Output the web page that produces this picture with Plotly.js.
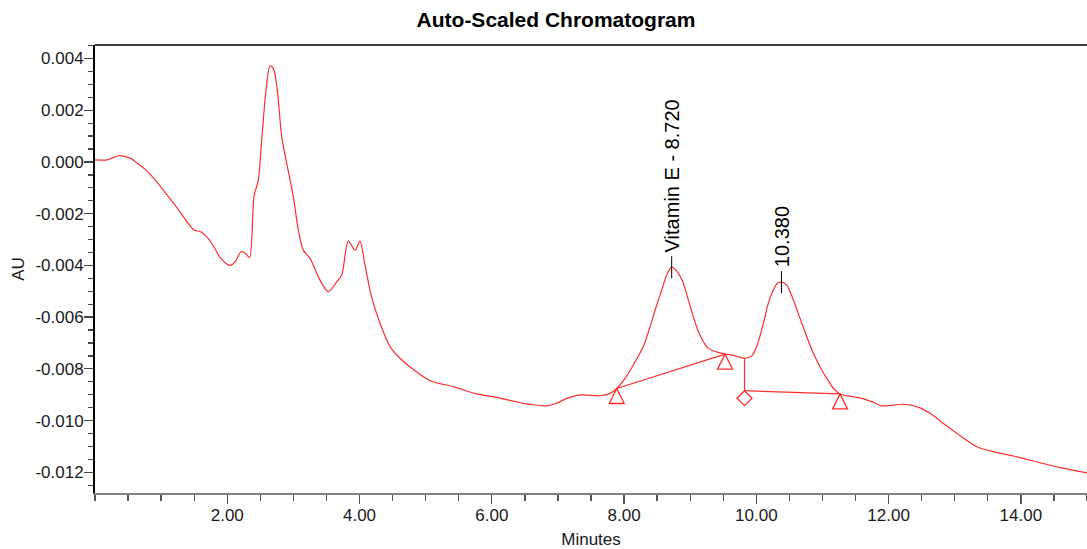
<!DOCTYPE html>
<html>
<head>
<meta charset="utf-8">
<script src="https://cdn.plot.ly/plotly-3.0.1.min.js"></script>
<style>
  html, body { margin: 0; padding: 0; background: #ffffff; }
  #chart { width: 1087px; height: 549px; }
</style>
</head>
<body>
<div id="chart"></div>
<script>
// ---- Chromatogram trace (retention time in minutes, absorbance in AU) ----
const timeMin = [
  0.000, 0.181, 0.257, 0.363, 0.540, 0.640, 0.741, 0.866, 0.994, 1.245,
  1.497, 1.598, 1.750, 1.901, 2.041, 2.117, 2.208, 2.268, 2.336, 2.404,
  2.469, 2.521, 2.586, 2.646, 2.696, 2.757, 2.823, 2.899, 2.999, 3.074,
  3.150, 3.251, 3.402, 3.528, 3.659, 3.731, 3.830, 3.932, 4.007, 4.083,
  4.184, 4.310, 4.461, 4.612, 4.789, 5.066, 5.418, 5.772, 6.074, 6.427,
  6.830, 6.982, 7.133, 7.334, 7.636, 7.788, 7.889, 8.015, 8.140, 8.291,
  8.393, 8.494, 8.570, 8.645, 8.720, 8.821, 8.896, 8.972, 9.047, 9.123,
  9.199, 9.274, 9.350, 9.451, 9.527, 9.652, 9.753, 9.821, 9.930, 10.006,
  10.106, 10.181, 10.257, 10.320, 10.380, 10.460, 10.560, 10.661, 10.762, 10.862,
  10.963, 11.065, 11.165, 11.266, 11.467, 11.594, 11.745, 11.896, 12.072, 12.223,
  12.426, 12.627, 12.828, 13.030, 13.333, 13.584, 13.886, 14.290, 14.592, 15.000
];
const absAU = [
  0.00008, 0.00008, 0.00015, 0.00024, 0.00014, -0.00005, -0.00025, -0.00057, -0.00096, -0.00179,
  -0.00263, -0.00270, -0.00308, -0.00373, -0.00400, -0.00387, -0.00347, -0.00352, -0.00370, -0.00134,
  -0.00070, 0.00085, 0.00278, 0.00371, 0.00362, 0.00278, 0.00098, -0.00005, -0.00134, -0.00263,
  -0.00341, -0.00373, -0.00457, -0.00502, -0.00462, -0.00437, -0.00306, -0.00341, -0.00306, -0.00399,
  -0.00524, -0.00624, -0.00714, -0.00759, -0.00798, -0.00846, -0.00869, -0.00897, -0.00910, -0.00931,
  -0.00943, -0.00933, -0.00914, -0.00901, -0.00904, -0.00895, -0.00876, -0.00837, -0.00785, -0.00714,
  -0.00637, -0.00553, -0.00495, -0.00437, -0.00407, -0.00431, -0.00469, -0.00534, -0.00598, -0.00656,
  -0.00695, -0.00721, -0.00731, -0.00738, -0.00743, -0.00748, -0.00755, -0.00759, -0.00750, -0.00714,
  -0.00624, -0.00547, -0.00495, -0.00469, -0.00465, -0.00476, -0.00534, -0.00605, -0.00676, -0.00740,
  -0.00792, -0.00837, -0.00875, -0.00897, -0.00908, -0.00914, -0.00927, -0.00943, -0.00940, -0.00937,
  -0.00946, -0.00972, -0.01011, -0.01049, -0.01101, -0.01120, -0.01137, -0.01163, -0.01182, -0.01202
];

// ---- Integrated peaks ----
const peakTimes  = [8.720, 10.380];
const peakAU     = [-0.00407, -0.00465];
const peakLabels = ['Vitamin E - 8.720', '10.380'];

// ---- Integration baselines ----
const baseline1T  = [7.889, 9.527];
const baseline1AU = [-0.00876, -0.00743];
const dropLineT   = [9.821, 9.821];
const dropLineAU  = [-0.00759, -0.008845];
const baseline2T  = [9.821, 11.266];
const baseline2AU = [-0.008845, -0.00897];

// ---- Peak start/end markers ----
const triangleT  = [7.889, 9.527, 11.266];
const triangleAU = [-0.00876, -0.00743, -0.00897];
const diamondT   = [9.821];
const diamondAU  = [-0.008845];

// ---- Axis ticks ----
const xTickVals = [2, 4, 6, 8, 10, 12, 14];
const xTickText = ['2.00', '4.00', '6.00', '8.00', '10.00', '12.00', '14.00'];
const yTickVals = [0.004, 0.002, 0.000, -0.002, -0.004, -0.006, -0.008, -0.010, -0.012];
const yTickText = ['0.004', '0.002', '0.000', '-0.002', '-0.004', '-0.006', '-0.008', '-0.010', '-0.012'];

const RED = 'rgb(255,45,45)';
const FONT = 'Liberation Sans, Arial, sans-serif';

const traces = [
  { x: timeMin, y: absAU, type: 'scatter', mode: 'lines',
    line: { color: RED, width: 1.2, shape: 'spline', smoothing: 0.8 }, hoverinfo: 'skip' },
  { x: baseline1T, y: baseline1AU, type: 'scatter', mode: 'lines',
    line: { color: RED, width: 1.2 }, hoverinfo: 'skip' },
  { x: dropLineT, y: dropLineAU, type: 'scatter', mode: 'lines',
    line: { color: RED, width: 1.2 }, hoverinfo: 'skip' },
  { x: baseline2T, y: baseline2AU, type: 'scatter', mode: 'lines',
    line: { color: RED, width: 1.2 }, hoverinfo: 'skip' }
];

const shapes = [
  { type: 'line', xref: 'paper', yref: 'paper', x0: 0, x1: 1, y0: 1, y1: 1,
    line: { color: '#000000', width: 1.5 } }
];
// peak apex tick marks
peakTimes.forEach((t, i) => {
  shapes.push({ type: 'line', xref: 'x', yref: 'y', x0: t, x1: t,
    ysizemode: 'pixel', yanchor: peakAU[i], y0: -11, y1: 11,
    line: { color: '#000000', width: 1 } });
});
// triangles hanging below baseline points
triangleT.forEach((t, i) => {
  shapes.push({ type: 'path', xref: 'x', yref: 'y',
    xsizemode: 'pixel', ysizemode: 'pixel', xanchor: t, yanchor: triangleAU[i],
    path: 'M0,0 L-7.5,-15 L7.5,-15 Z',
    line: { color: RED, width: 1.3 } });
});
// diamond hanging below drop-line point
diamondT.forEach((t, i) => {
  shapes.push({ type: 'path', xref: 'x', yref: 'y',
    xsizemode: 'pixel', ysizemode: 'pixel', xanchor: t, yanchor: diamondAU[i],
    path: 'M0,0 L7.5,-7.5 L0,-15 L-7.5,-7.5 Z',
    line: { color: RED, width: 1.3 } });
});

const annotations = peakTimes.map((t, i) => ({
  x: t, y: peakAU[i], xref: 'x', yref: 'y', text: peakLabels[i],
  showarrow: false, textangle: -90, xanchor: 'center', yanchor: 'bottom', yshift: 13,
  font: { family: FONT, size: 20, color: '#000000' }
}));

const layout = {
  width: 1087, height: 549,
  margin: { l: 95, r: 0, t: 45, b: 56 },
  paper_bgcolor: '#ffffff', plot_bgcolor: '#ffffff',
  showlegend: false,
  title: { text: '<b>Auto-Scaled Chromatogram</b>', xref: 'container', yref: 'container',
    x: 0.5115, xanchor: 'center', y: 0.9636, yanchor: 'middle',
    font: { family: FONT, size: 21, color: '#000000' } },
  xaxis: {
    range: [0, 15], tickmode: 'array', tickvals: xTickVals, ticktext: xTickText,
    ticks: 'outside', ticklen: 9, tickwidth: 1.3, tickcolor: '#555555',
    ticklabelstandoff: -3,
    showline: true, linecolor: '#808080', linewidth: 2,
    showgrid: false, zeroline: false, fixedrange: true,
    tickfont: { family: FONT, size: 17, color: '#1a1a1a' },
    title: { text: 'Minutes', standoff: 9, font: { family: FONT, size: 17, color: '#1a1a1a' } },
    minor: { tickmode: 'linear', tick0: 0, dtick: 0.5, ticks: 'outside', ticklen: 6,
      tickwidth: 1.3, tickcolor: '#555555', showgrid: false }
  },
  yaxis: {
    range: [-0.012801, 0.004522], tickmode: 'array', tickvals: yTickVals, ticktext: yTickText,
    ticks: 'outside', ticklen: 9, tickwidth: 1.3, tickcolor: '#444444',
    ticklabelstandoff: -3,
    showline: true, linecolor: '#000000', linewidth: 2,
    showgrid: false, zeroline: false, fixedrange: true,
    tickfont: { family: FONT, size: 17, color: '#1a1a1a' },
    title: { text: 'AU', standoff: 6, font: { family: FONT, size: 17, color: '#1a1a1a' } },
    minor: { tickmode: 'linear', tick0: 0, dtick: 0.0005, ticks: 'outside', ticklen: 5,
      tickwidth: 1.3, tickcolor: '#444444', showgrid: false }
  },
  shapes: shapes,
  annotations: annotations
};

Plotly.newPlot('chart', traces, layout, { displayModeBar: false, staticPlot: true });
</script>
</body>
</html>
